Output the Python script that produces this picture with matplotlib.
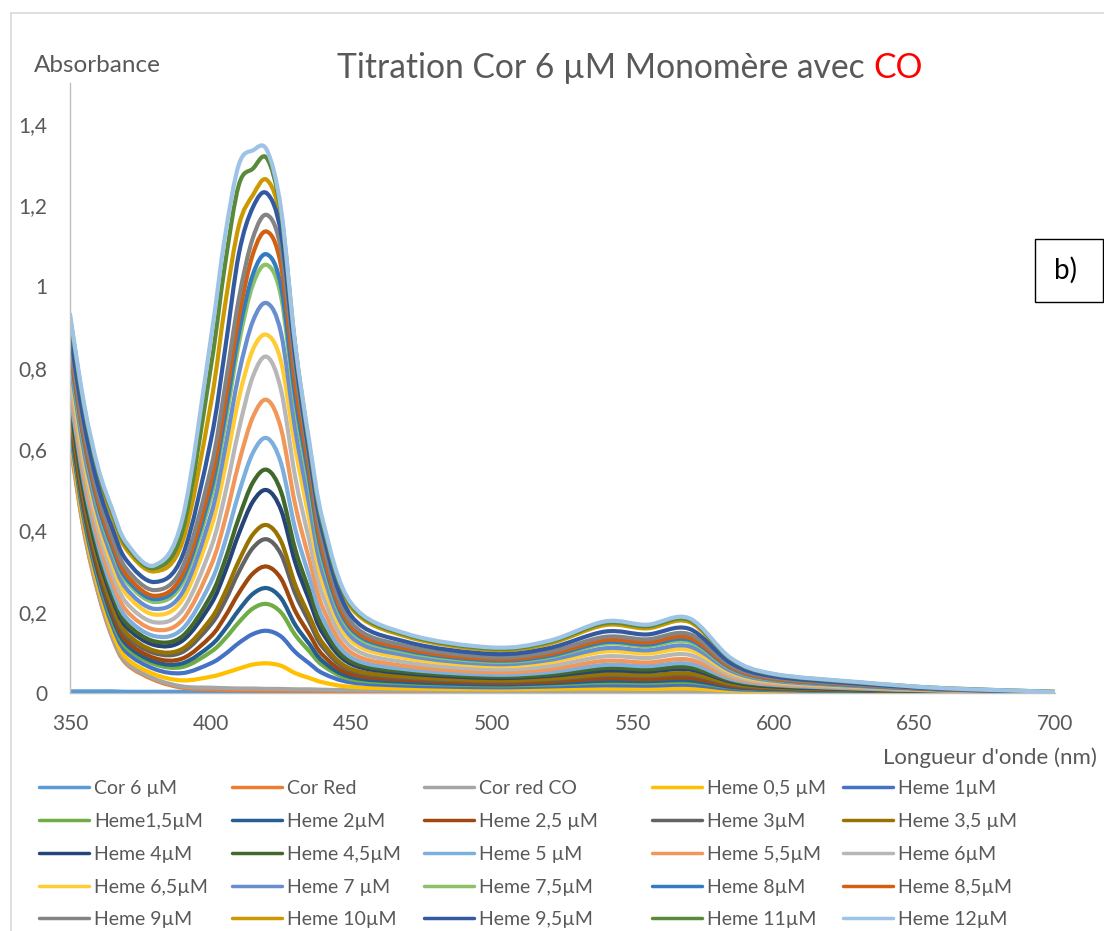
import numpy as np
import matplotlib
matplotlib.use("Agg")
import matplotlib.pyplot as plt
from matplotlib.path import Path
from matplotlib.patches import PathPatch, Rectangle
from matplotlib.lines import Line2D

plt.rcParams["font.family"] = ["Lato", "DejaVu Sans"]

# ---------------------------------------------------------------- data
wavelength_nm = [350, 355, 360, 365, 370, 380, 390, 400, 405, 410, 415, 420, 425, 430,
                 435, 440, 450, 470, 500, 520, 540, 555, 570, 585, 600, 630, 660, 700]

cor_6uM = [0.004, 0.004, 0.004, 0.004, 0.003, 0.003, 0.003, 0.003, 0.003, 0.003, 0.003, 0.003, 0.003, 0.003,
           0.003, 0.003, 0.002, 0.002, 0.002, 0.002, 0.002, 0.002, 0.002, 0.002, 0.001, 0.001, 0.001, 0.001]
cor_red = [0.616, 0.396, 0.246, 0.137, 0.072, 0.032, 0.013, 0.009, 0.008, 0.007, 0.007, 0.006, 0.006, 0.006,
           0.006, 0.005, 0.005, 0.004, 0.004, 0.003, 0.003, 0.003, 0.003, 0.003, 0.002, 0.002, 0.001, 0.001]
cor_red_co = [0.620, 0.400, 0.250, 0.140, 0.075, 0.035, 0.016, 0.013, 0.012, 0.011, 0.011, 0.010, 0.010, 0.009,
              0.009, 0.008, 0.007, 0.006, 0.005, 0.005, 0.004, 0.004, 0.004, 0.003, 0.003, 0.002, 0.002, 0.001]
heme_0_5 = [0.632, 0.412, 0.262, 0.152, 0.086, 0.046, 0.031, 0.040, 0.049, 0.060, 0.070, 0.073, 0.067, 0.049,
            0.037, 0.026, 0.015, 0.011, 0.009, 0.010, 0.011, 0.010, 0.011, 0.006, 0.005, 0.003, 0.002, 0.001]
heme_1 = [0.647, 0.427, 0.276, 0.168, 0.101, 0.059, 0.049, 0.073, 0.095, 0.123, 0.145, 0.153, 0.139, 0.101,
          0.073, 0.048, 0.026, 0.018, 0.014, 0.016, 0.019, 0.018, 0.020, 0.010, 0.007, 0.004, 0.003, 0.001]
heme_1_5 = [0.660, 0.440, 0.289, 0.180, 0.112, 0.071, 0.064, 0.101, 0.133, 0.174, 0.208, 0.219, 0.198, 0.143,
            0.103, 0.067, 0.034, 0.024, 0.019, 0.021, 0.026, 0.025, 0.027, 0.014, 0.009, 0.005, 0.003, 0.001]
heme_2 = [0.667, 0.448, 0.296, 0.187, 0.120, 0.077, 0.073, 0.117, 0.156, 0.204, 0.244, 0.258, 0.233, 0.168,
          0.121, 0.077, 0.039, 0.027, 0.021, 0.024, 0.030, 0.029, 0.031, 0.015, 0.010, 0.006, 0.004, 0.001]
heme_2_5 = [0.677, 0.457, 0.306, 0.198, 0.129, 0.086, 0.085, 0.139, 0.187, 0.246, 0.294, 0.311, 0.281, 0.202,
            0.145, 0.092, 0.046, 0.032, 0.025, 0.028, 0.036, 0.034, 0.037, 0.018, 0.011, 0.007, 0.004, 0.001]
heme_3 = [0.690, 0.470, 0.319, 0.210, 0.141, 0.098, 0.101, 0.168, 0.225, 0.298, 0.357, 0.378, 0.341, 0.245,
          0.175, 0.111, 0.055, 0.037, 0.029, 0.033, 0.043, 0.041, 0.045, 0.021, 0.013, 0.008, 0.004, 0.001]
heme_3_5 = [0.697, 0.477, 0.325, 0.217, 0.148, 0.104, 0.109, 0.182, 0.246, 0.325, 0.390, 0.413, 0.373, 0.267,
            0.190, 0.121, 0.059, 0.040, 0.031, 0.035, 0.046, 0.044, 0.048, 0.023, 0.014, 0.008, 0.004, 0.001]
heme_4 = [0.713, 0.493, 0.340, 0.233, 0.163, 0.118, 0.129, 0.218, 0.296, 0.392, 0.471, 0.499, 0.450, 0.322,
          0.229, 0.145, 0.071, 0.048, 0.037, 0.042, 0.055, 0.053, 0.058, 0.028, 0.016, 0.009, 0.005, 0.002]
heme_4_5 = [0.722, 0.502, 0.350, 0.243, 0.172, 0.127, 0.140, 0.239, 0.325, 0.431, 0.518, 0.549, 0.495, 0.354,
            0.252, 0.159, 0.077, 0.052, 0.040, 0.045, 0.061, 0.058, 0.063, 0.030, 0.018, 0.010, 0.005, 0.002]
heme_5 = [0.737, 0.517, 0.364, 0.257, 0.186, 0.140, 0.158, 0.272, 0.370, 0.492, 0.591, 0.627, 0.565, 0.404,
          0.287, 0.181, 0.087, 0.058, 0.045, 0.051, 0.069, 0.066, 0.072, 0.034, 0.020, 0.011, 0.006, 0.002]
heme_5_5 = [0.755, 0.535, 0.382, 0.275, 0.203, 0.156, 0.180, 0.312, 0.424, 0.566, 0.679, 0.721, 0.650, 0.464,
            0.329, 0.207, 0.099, 0.066, 0.051, 0.058, 0.079, 0.075, 0.082, 0.039, 0.022, 0.013, 0.006, 0.002]
heme_6 = [0.775, 0.555, 0.401, 0.295, 0.222, 0.174, 0.204, 0.356, 0.486, 0.648, 0.779, 0.827, 0.745, 0.532,
          0.377, 0.237, 0.113, 0.075, 0.058, 0.066, 0.090, 0.086, 0.094, 0.044, 0.025, 0.014, 0.007, 0.002]
heme_6_5 = [0.797, 0.576, 0.422, 0.316, 0.243, 0.193, 0.230, 0.404, 0.551, 0.725, 0.845, 0.881, 0.815, 0.604,
            0.428, 0.268, 0.128, 0.085, 0.066, 0.075, 0.102, 0.097, 0.106, 0.050, 0.028, 0.016, 0.008, 0.002]
heme_7 = [0.812, 0.592, 0.437, 0.332, 0.257, 0.207, 0.248, 0.437, 0.598, 0.785, 0.915, 0.959, 0.885, 0.650,
          0.464, 0.291, 0.138, 0.092, 0.071, 0.081, 0.110, 0.105, 0.115, 0.054, 0.030, 0.017, 0.008, 0.002]
heme_7_5 = [0.831, 0.611, 0.456, 0.351, 0.275, 0.224, 0.271, 0.479, 0.656, 0.860, 1.005, 1.053, 0.975, 0.710,
            0.509, 0.319, 0.151, 0.100, 0.077, 0.088, 0.121, 0.115, 0.126, 0.059, 0.033, 0.019, 0.009, 0.002]
heme_8 = [0.839, 0.619, 0.463, 0.359, 0.282, 0.231, 0.281, 0.496, 0.679, 0.885, 1.030, 1.079, 1.000, 0.730,
          0.527, 0.330, 0.157, 0.104, 0.080, 0.091, 0.125, 0.119, 0.131, 0.061, 0.034, 0.019, 0.009, 0.002]
heme_8_5 = [0.848, 0.628, 0.472, 0.368, 0.291, 0.239, 0.292, 0.517, 0.708, 0.925, 1.080, 1.135, 1.050, 0.760,
            0.549, 0.344, 0.163, 0.108, 0.083, 0.095, 0.130, 0.124, 0.136, 0.063, 0.035, 0.020, 0.009, 0.002]
heme_9 = [0.863, 0.643, 0.487, 0.383, 0.306, 0.253, 0.310, 0.551, 0.750, 0.970, 1.120, 1.176, 1.090, 0.800,
          0.575, 0.366, 0.173, 0.115, 0.088, 0.101, 0.138, 0.132, 0.145, 0.067, 0.038, 0.021, 0.010, 0.002]
heme_10 = [0.915, 0.695, 0.537, 0.435, 0.354, 0.299, 0.373, 0.710, 0.950, 1.150, 1.225, 1.262, 1.160, 0.850,
           0.605, 0.400, 0.209, 0.138, 0.106, 0.121, 0.167, 0.159, 0.175, 0.081, 0.045, 0.025, 0.011, 0.003]
heme_9_5 = [0.886, 0.666, 0.509, 0.406, 0.327, 0.273, 0.338, 0.620, 0.840, 1.080, 1.195, 1.229, 1.130, 0.830,
            0.590, 0.390, 0.189, 0.125, 0.096, 0.110, 0.151, 0.144, 0.158, 0.073, 0.041, 0.023, 0.010, 0.002]
heme_11 = [0.924, 0.704, 0.546, 0.444, 0.363, 0.307, 0.400, 0.800, 1.050, 1.250, 1.290, 1.315, 1.180, 0.855,
           0.610, 0.410, 0.215, 0.142, 0.109, 0.125, 0.172, 0.164, 0.180, 0.083, 0.046, 0.026, 0.012, 0.003]
heme_12 = [0.932, 0.711, 0.554, 0.452, 0.370, 0.314, 0.430, 0.870, 1.120, 1.300, 1.335, 1.335, 1.190, 0.860,
           0.620, 0.420, 0.220, 0.145, 0.112, 0.128, 0.176, 0.168, 0.184, 0.085, 0.047, 0.027, 0.012, 0.003]

series_labels = ["Cor 6 µM", "Cor Red", "Cor red CO", "Heme 0,5 µM", "Heme 1µM",
                 "Heme1,5µM", "Heme 2µM", "Heme 2,5 µM", "Heme 3µM", "Heme 3,5 µM",
                 "Heme 4µM", "Heme 4,5µM", "Heme 5 µM", "Heme 5,5µM", "Heme 6µM",
                 "Heme 6,5µM", "Heme 7 µM", "Heme 7,5µM", "Heme 8µM", "Heme 8,5µM",
                 "Heme 9µM", "Heme 10µM", "Heme 9,5µM", "Heme 11µM", "Heme 12µM"]
series_values = [cor_6uM, cor_red, cor_red_co, heme_0_5, heme_1,
                 heme_1_5, heme_2, heme_2_5, heme_3, heme_3_5,
                 heme_4, heme_4_5, heme_5, heme_5_5, heme_6,
                 heme_6_5, heme_7, heme_7_5, heme_8, heme_8_5,
                 heme_9, heme_10, heme_9_5, heme_11, heme_12]

# Office palette, one colour per series
series_colors = ["#5B9BD5", "#ED7D31", "#A5A5A5", "#FFC000", "#4472C4",
                 "#70AD47", "#255E91", "#9E480E", "#636363", "#997300",
                 "#264478", "#43682B", "#7CAFDD", "#F1975A", "#B7B7B7",
                 "#FFCD33", "#698ED0", "#8CC168", "#327DC2", "#D26012",
                 "#848484", "#CC9A00", "#335AA1", "#5A8A39", "#9DC3E6"]

x_ticks = [350, 400, 450, 500, 550, 600, 650, 700]
y_ticks = [0, 0.2, 0.4, 0.6, 0.8, 1.0, 1.2, 1.4]
y_tick_labels = ["0", "0,2", "0,4", "0,6", "0,8", "1", "1,2", "1,4"]

# ---------------------------------------------------------------- helpers
W, H = 1104, 931
TEXT = "#595959"


def fx(px):
    return px / W


def fy(py):
    return 1 - py / H


def smooth_path(x, y):
    """Catmull-Rom style cubic Bezier path through the data points."""
    pts = np.column_stack([np.asarray(x, float), np.asarray(y, float)])
    ext = np.vstack([pts[0], pts, pts[-1]])
    verts = [pts[0]]
    codes = [Path.MOVETO]
    for i in range(len(pts) - 1):
        p0, p1, p2, p3 = ext[i], ext[i + 1], ext[i + 2], ext[i + 3]
        verts += [p1 + (p2 - p0) / 6.0, p2 - (p3 - p1) / 6.0, p2]
        codes += [Path.CURVE4] * 3
    return Path(verts, codes)


# ---------------------------------------------------------------- figure
fig = plt.figure(figsize=(W / 100, H / 100), dpi=100)
fig.patch.set_facecolor("white")

ax = fig.add_axes([fx(70), fy(693), (1055 - 70) / W, (693 - 83.25) / H])
ax.set_xlim(350, 700)
ax.set_ylim(0, 1.5)

for vals, col in zip(series_values, series_colors):
    ax.add_patch(PathPatch(smooth_path(wavelength_nm, vals), facecolor="none",
                           edgecolor=col, lw=3.0, joinstyle="round", capstyle="round"))

ax.set_xticks(x_ticks)
ax.set_yticks(y_ticks)
ax.set_yticklabels(y_tick_labels)
ax.tick_params(axis="both", length=0, labelsize=15, labelcolor=TEXT)
ax.tick_params(axis="x", pad=15)
ax.tick_params(axis="y", pad=16.5)
for side in ("top", "right"):
    ax.spines[side].set_visible(False)
for side in ("left", "bottom"):
    ax.spines[side].set_color("#BFBFBF")
    ax.spines[side].set_linewidth(1.0)
ax.spines["bottom"].set_zorder(0)

# chart frame
fig.add_artist(Line2D([fx(11), fx(11)], [fy(13), 0], color="#D9D9D9", lw=1.2))
fig.add_artist(Line2D([fx(11), 1], [fy(13), fy(13)], color="#D9D9D9", lw=1.2))

# title in two colours
t1 = fig.text(fx(337), fy(78), "Titration Cor 6 µM Monomère avec", fontsize=24.2,
              color=TEXT, ha="left", va="baseline")
ax.annotate("CO", xy=(1, fy(78)), xycoords=(t1, "figure fraction"),
            xytext=(6, 0), textcoords="offset points", fontsize=24.2,
            color="#FF0000", ha="left", va="baseline", annotation_clip=False)

# axis titles
fig.text(fx(34), fy(72), "Absorbance", fontsize=17.5, color=TEXT, ha="left", va="baseline")
fig.text(fx(1097), fy(764), "Longueur d'onde (nm)", fontsize=16, color=TEXT,
         ha="right", va="baseline")

# panel tag
fig.add_artist(Rectangle((fx(1035), fy(302)), (1103 - 1035) / W, (302 - 239) / H,
                         transform=fig.transFigure, fill=False, ec="black", lw=1.0))
fig.text(fx(1066), fy(270), "b)", fontsize=20, color="black", ha="center", va="center")

# legend, five columns filled row by row
col_x = [39, 232, 424, 652, 843]
row_y = [787, 820, 853, 886, 918]
for i, (lab, col) in enumerate(zip(series_labels, series_colors)):
    r, c = divmod(i, 5)
    x0, y0 = col_x[c], row_y[r]
    fig.add_artist(Line2D([fx(x0), fx(x0 + 50)], [fy(y0), fy(y0)], color=col,
                          lw=2.5, solid_capstyle="round"))
    fig.text(fx(x0 + 55), fy(y0), lab, fontsize=14, color=TEXT, ha="left", va="center_baseline")

fig.savefig("out.png", dpi=100, facecolor="white")
